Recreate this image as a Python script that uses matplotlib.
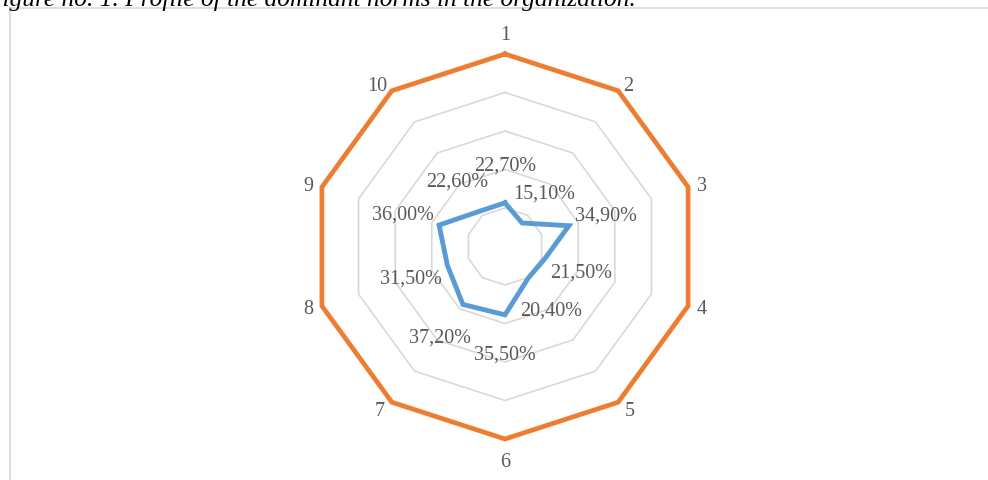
import numpy as np
import matplotlib
matplotlib.use("Agg")
import matplotlib.pyplot as plt
from matplotlib.patches import Rectangle

categories = ["1", "2", "3", "4", "5", "6", "7", "8", "9", "10"]
norms = [22.7, 15.1, 34.9, 21.5, 20.4, 35.5, 37.2, 31.5, 36.0, 22.6]
maximum = [100, 100, 100, 100, 100, 100, 100, 100, 100, 100]
grid_levels = [20, 40, 60, 80, 100]
title = "Figure no. 1. Profile of the dominant norms in the organization."

ORANGE = "#ED7D31"
BLUE = "#5B9BD5"
GRID = "#D9D9D9"
TXT = "#595959"
SERIF = ["Liberation Serif", "DejaVu Serif"]

W, H = 988, 481
fig = plt.figure(figsize=(W / 100, H / 100), dpi=100)

# chart frame (cropped)
fig.patches.append(Rectangle((10 / W, -0.1), 1.2, (H - 9) / H + 0.1, transform=fig.transFigure,
                             fill=False, edgecolor=GRID, linewidth=1.2, zorder=0))

cx, cy, R = 505, H - 247.5, 192.5
ax = fig.add_axes([(cx - R) / W, (cy - R) / H, 2 * R / W, 2 * R / H], projection="polar")
ax.set_theta_offset(np.pi / 2)
ax.set_theta_direction(-1)
ax.set_ylim(0, 100)
ax.grid(False)
ax.spines["polar"].set_visible(False)
ax.set_yticks([])
ax.set_xticks([])
ax.patch.set_alpha(0)

n = len(categories)
theta = np.arange(n) * 2 * np.pi / n
tc = np.append(theta, theta[0])

for lv in grid_levels:
    ax.plot(tc, [lv] * (n + 1), color=GRID, lw=1.2, zorder=1, clip_on=False)

ax.plot(tc, np.append(maximum, maximum[0]), color=ORANGE, lw=3.4, zorder=3,
        solid_joinstyle="miter", clip_on=False)
ax.plot(tc, np.append(norms, norms[0]), color=BLUE, lw=3.5, zorder=4,
        solid_joinstyle="miter", clip_on=False)

for t, v in zip(theta, norms):
    ax.annotate(f"{v:.2f}%".replace(".", ","), xy=(t, v + 20), xytext=(0, -1),
                textcoords="offset pixels", ha="center", va="center",
                fontsize=14.5, family=SERIF, color=TXT, zorder=5)

# category labels placed next to the outer vertex
for t, c in zip(theta, categories):
    ux, uy = np.sin(t), np.cos(t)
    if abs(ux) < 0.1:
        ha = "center"
        va = "baseline" if uy > 0 else "top"
        off = (0, 15 if uy > 0 else -13)
    else:
        ha = "left" if ux > 0 else "right"
        s = 1 if ux > 0 else -1
        if abs(uy) > 0.5:
            va = "baseline" if uy > 0 else "top"
            off = (s * 5, 1) if uy > 0 else (s * 7, 1)
        else:
            va = "center"
            off = (s * 9, 2 if uy > 0 else -3)
    ax.annotate(c, xy=(t, 100), xytext=off, textcoords="offset pixels", ha=ha, va=va,
                fontsize=14.5, family=SERIF, color=TXT, annotation_clip=False)

fig.text(636 / W, (H - 6) / H, title, ha="right", va="baseline", fontsize=18.3,
         family=SERIF, style="italic", color="black")

fig.savefig("out.png", dpi=100)
